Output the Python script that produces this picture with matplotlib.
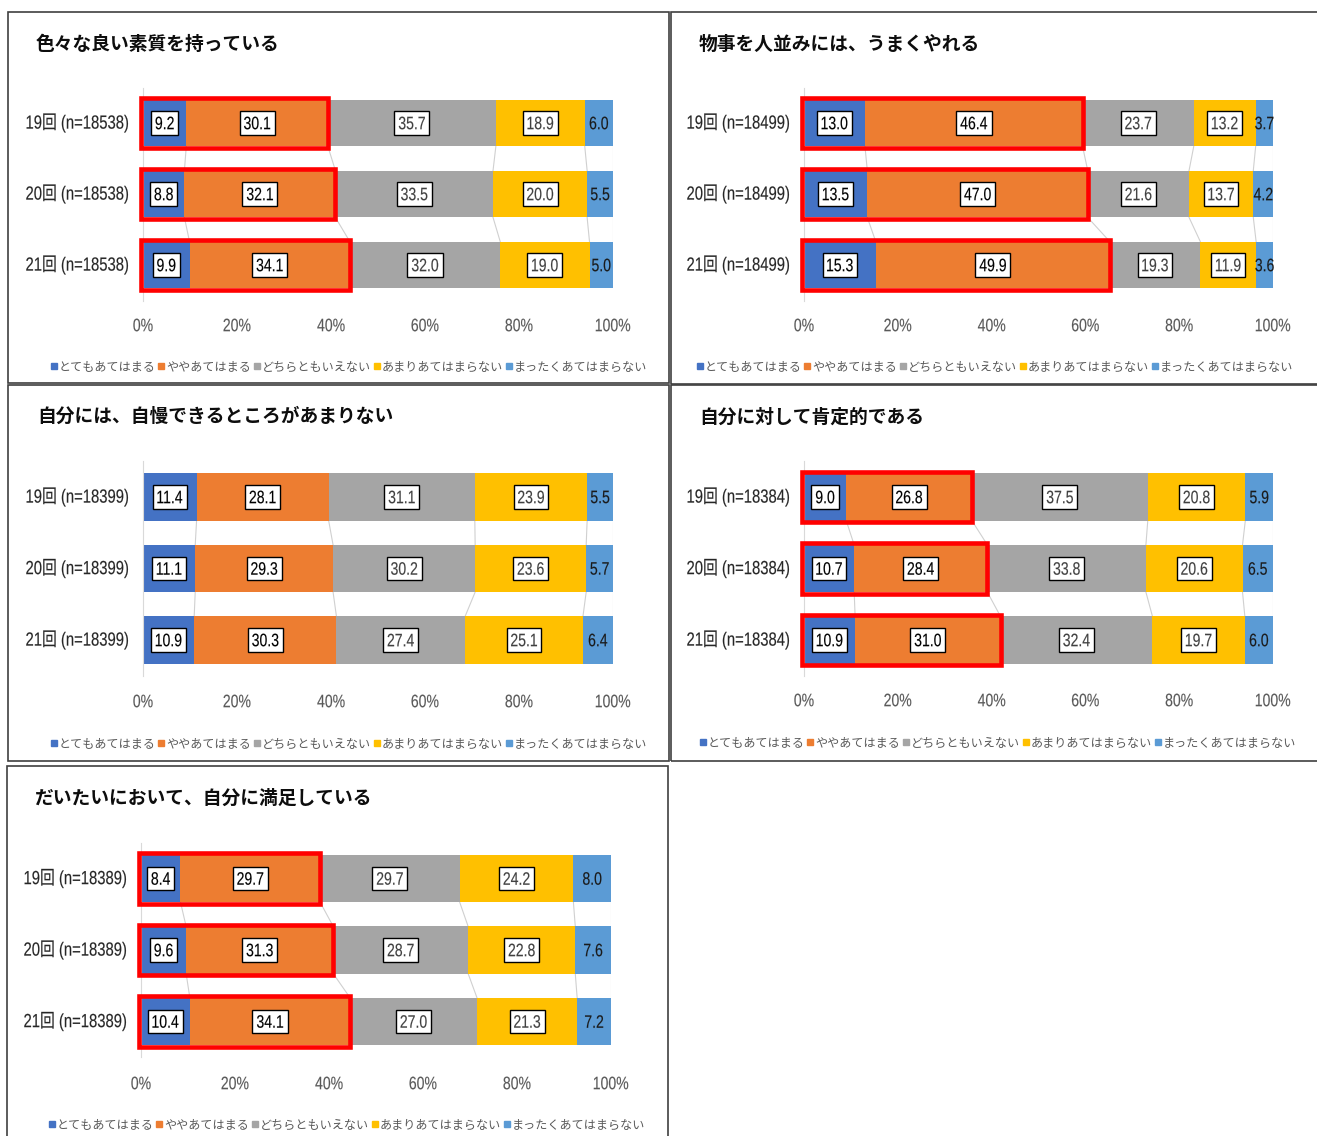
import matplotlib
matplotlib.use("Agg")
import matplotlib.pyplot as plt
from matplotlib.patches import Rectangle, PathPatch
from matplotlib.lines import Line2D
from matplotlib.textpath import TextPath
from matplotlib.font_manager import FontProperties
from matplotlib.transforms import Affine2D, IdentityTransform

# ---- data -------------------------------------------------------------
titles = [
    "色々な良い素質を持っている",
    "物事を人並みには、うまくやれる",
    "自分には、自慢できるところがあまりない",
    "自分に対して肯定的である",
    "だいたいにおいて、自分に満足している",
]
sample_sizes = [18538, 18499, 18399, 18384, 18389]
rounds = ["19回", "20回", "21回"]
answers = ["とてもあてはまる", "ややあてはまる", "どちらともいえない",
           "あまりあてはまらない", "まったくあてはまらない"]

good_qualities = [[9.2, 30.1, 35.7, 18.9, 6.0],
                  [8.8, 32.1, 33.5, 20.0, 5.5],
                  [9.9, 34.1, 32.0, 19.0, 5.0]]
do_well = [[13.0, 46.4, 23.7, 13.2, 3.7],
           [13.5, 47.0, 21.6, 13.7, 4.2],
           [15.3, 49.9, 19.3, 11.9, 3.6]]
not_proud = [[11.4, 28.1, 31.1, 23.9, 5.5],
             [11.1, 29.3, 30.2, 23.6, 5.7],
             [10.9, 30.3, 27.4, 25.1, 6.4]]
positive_self = [[9.0, 26.8, 37.5, 20.8, 5.9],
                 [10.7, 28.4, 33.8, 20.6, 6.5],
                 [10.9, 31.0, 32.4, 19.7, 6.0]]
satisfied = [[8.4, 29.7, 29.7, 24.2, 8.0],
             [9.6, 31.3, 28.7, 22.8, 7.6],
             [10.4, 34.1, 27.0, 21.3, 7.2]]
panel_values = [good_qualities, do_well, not_proud, positive_self, satisfied]
highlighted = [True, True, False, True, True]
x_ticks = [0, 20, 40, 60, 80, 100]

colors = ["#4472C4", "#ED7D31", "#A5A5A5", "#FFC000", "#5B9BD5"]
label_colors = ["#000000", "#000000", "#404040", "#404040", "#1A1A1A"]

# ---- layout (pixels of the 1317x1136 canvas) ---------------------------
W, H = 1317, 1136
layout = [
    dict(frame=(8, 12, 669, 383), x0=143, x1=613, c=123, s=71, title=(36, 44), tick=325, leg=(349, 367)),
    dict(frame=(671, 12, 1325, 384), x0=804, x1=1273, c=123, s=71, title=(699, 44), tick=325, leg=(995, 367)),
    dict(frame=(8, 385, 669, 761), x0=143, x1=613, c=497, s=71.5, title=(37, 416), tick=701, leg=(349, 744)),
    dict(frame=(671, 385, 1325, 761), x0=804, x1=1273, c=497, s=71.5, title=(699, 417), tick=700, leg=(998, 743)),
    dict(frame=(7, 766, 668, 1145), x0=141, x1=611, c=878.5, s=71.5, title=(35, 798), tick=1083, leg=(347, 1125)),
]

JP = "Noto Sans CJK JP"
plt.rcParams["font.family"] = ["Liberation Sans", JP, "DejaVu Sans"]
NARROW_PROP = FontProperties(family=["Liberation Sans", JP, "DejaVu Sans"])

fig = plt.figure(figsize=(W / 100, H / 100), dpi=100)
fig.patch.set_facecolor("white")

BAR_H = 0.66


def narrow_text(x, y, s, size_px, color, ha="center", box=False, sx=0.78, zorder=6):
    """Horizontally condensed text drawn as a path; x, y in display pixels."""
    tp = TextPath((0, 0), s, size=size_px, prop=NARROW_PROP)
    ext = tp.get_extents()
    w = ext.width * sx
    h = ext.height
    if ha == "center":
        left = x - w / 2
    elif ha == "right":
        left = x - w
    else:
        left = x
    tr = Affine2D().translate(-ext.x0, -(ext.y0 + ext.y1) / 2).scale(sx, 1).translate(left, y)
    if box:
        padx, pady = 4.5, 5.5
        fig.add_artist(Rectangle((left - padx, y - h / 2 - pady), w + 2 * padx, h + 2 * pady,
                                 transform=IdentityTransform(), fc="white", ec="black",
                                 lw=1.0, zorder=zorder - 0.5))
    fig.add_artist(PathPatch(tp, transform=tr, fc=color, ec=color, lw=0.1, zorder=zorder))


for p, (vals, lay) in enumerate(zip(panel_values, layout)):
    fx0, fy0, fx1, fy1 = lay["frame"]
    fig.add_artist(Rectangle((fx0 / W, 1 - fy1 / H), (fx1 - fx0) / W, (fy1 - fy0) / H,
                             transform=fig.transFigure, fill=False, ec="#404040", lw=1.2))

    top = lay["c"] - lay["s"] / 2
    bottom = lay["c"] + 2.5 * lay["s"]
    ax = fig.add_axes([lay["x0"] / W, 1 - bottom / H, (lay["x1"] - lay["x0"]) / W, (bottom - top) / H])
    ax.set_xlim(0, 100)
    ax.set_ylim(2.5, -0.5)
    ax.set_xticks([])
    ax.set_yticks([])
    for sp in ["top", "right", "bottom"]:
        ax.spines[sp].set_visible(False)
    ax.spines["left"].set_color("#D9D9D9")
    ax.spines["left"].set_linewidth(0.8)
    ax.set_facecolor("none")

    cums = []
    for i, row in enumerate(vals):
        tot = sum(row)
        left = 0.0
        cum = [0.0]
        for k, v in enumerate(row):
            share = v / tot * 100
            ax.barh(i, share, left=left, height=BAR_H, color=colors[k], zorder=2)
            dx, dy = ax.transData.transform((left + share / 2, i))
            narrow_text(dx, dy, f"{v:.1f}", 18, label_colors[k], box=(k < 4))
            left += share
            cum.append(left)
        cums.append(cum)

        if highlighted[p]:
            ax.add_patch(Rectangle((-0.4, i - BAR_H / 2 - 0.02), cum[2] + 0.4, BAR_H + 0.04,
                                   fill=False, ec="#FF0000", lw=3.3, zorder=5, clip_on=False))

        # category label
        lx, ly = ax.transData.transform((0, i))
        narrow_text(lx - 15, ly, f"{rounds[i]} (n={sample_sizes[p]})", 19, "#262626", ha="right")

    # series lines between bars
    for i in range(len(cums) - 1):
        for k in range(1, 6):
            ax.plot([cums[i][k], cums[i + 1][k]], [i + BAR_H / 2, i + 1 - BAR_H / 2],
                    color="#D0D0D0", lw=0.8, zorder=1)

    # x tick labels
    for t in x_ticks:
        tx_, _ = ax.transData.transform((t, 0))
        narrow_text(tx_, H - lay["tick"], f"{t}%", 18, "#595959")

    tx, ty = lay["title"]
    fig.text(tx / W, 1 - ty / H, titles[p], fontsize=13.5, weight="bold",
             color="#0D0D0D", ha="left", va="center", family=[JP, "DejaVu Sans"])

    handles = [Line2D([], [], marker="s", linestyle="none", markersize=4.5,
                      markerfacecolor=c, markeredgecolor=c) for c in colors]
    lgx, lgy = lay["leg"]
    fig.legend(handles, answers, loc="center", bbox_to_anchor=(lgx / W, 1 - lgy / H),
               ncol=5, frameon=False, handlelength=0.5, handletextpad=0.15,
               columnspacing=0.25, borderaxespad=0, labelcolor="#595959",
               prop=dict(family=[JP, "DejaVu Sans"], size=8.7))

fig.savefig("out.png", dpi=100, facecolor="white")
